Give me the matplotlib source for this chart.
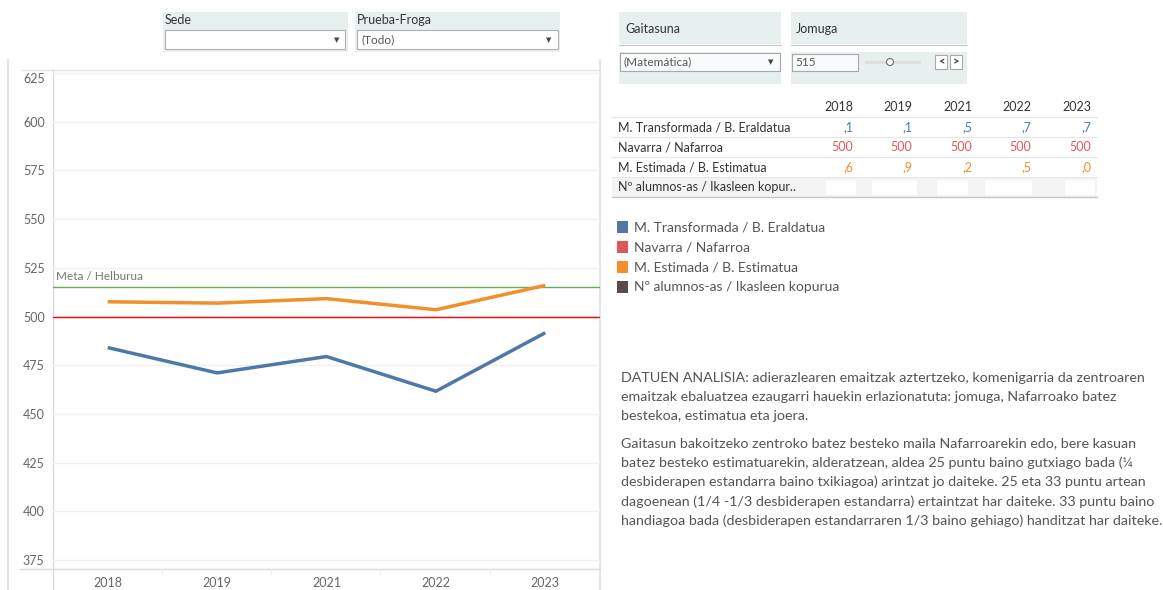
import numpy as np
import matplotlib.pyplot as plt
from matplotlib.patches import Rectangle, Circle

plt.rcParams['font.family'] = ['Lato', 'DejaVu Sans']

# datos
years = ['2018', '2019', '2021', '2022', '2023']
transformada = [484.1, 471.1, 479.5, 461.7, 491.7]
navarra = [500, 500, 500, 500, 500]
estimada = [507.6, 506.9, 509.2, 503.5, 516.0]
meta = 515
yticks = [375, 400, 425, 450, 475, 500, 525, 550, 575, 600, 625]

# tabla (valores parcialmente ocultos en la imagen)
row_names = ['M. Transformada / B. Eraldatua', 'Navarra / Nafarroa',
             'M. Estimada / B. Estimatua', 'Nº alumnos-as / Ikasleen kopur..']
tab_transf = [',1', ',1', ',5', ',7', ',7']
tab_nav = ['500', '500', '500', '500', '500']
tab_estim = [',6', ',9', ',2', ',5', ',0']

legend_names = ['M. Transformada / B. Eraldatua', 'Navarra / Nafarroa',
                'M. Estimada / B. Estimatua', 'Nº alumnos-as / Ikasleen kopurua']
c_blue, c_red, c_orange, c_brown = '#4e79a7', '#e15759', '#f28e2b', '#574c4a'
grey_txt = '#666666'
panel = '#e8f0ef'

W, H = 1163, 590
fig = plt.figure(figsize=(W / 100, H / 100), dpi=100)

# capa en pixeles para el dashboard
bg = fig.add_axes([0, 0, 1, 1], zorder=0)
bg.set_xlim(0, W)
bg.set_ylim(H, 0)
bg.axis('off')

def px(x0, y0, x1, y1, **kw):
    bg.add_patch(Rectangle((x0, y0), x1 - x0, y1 - y0, **kw))

# marco del grafico
bg.plot([8, 8], [60, 590], color='#e4e4e4', lw=1.5)
bg.plot([22, 600], [70, 70], color='#e4e4e4', lw=1)
bg.plot([53, 53], [70, 590], color='#d9d9d9', lw=1)
bg.plot([600, 600], [60, 590], color='#e0e0e0', lw=1.2)
bg.plot([20, 600], [569, 569], color='#d9d9d9', lw=1)
for xs in [162, 271, 380, 490]:
    bg.plot([xs, xs], [569, 574], color='#ececec', lw=1)

# filtros
fs = 9
px(163, 12, 348, 52, color=panel, lw=0)
bg.text(165, 20, 'Sede', fontsize=fs, color='#333333', va='center')
px(165, 30, 345, 49, facecolor='white', edgecolor='#b0b0b0', lw=0.8)
bg.text(337, 40, '▼', fontsize=5, color='#444444', ha='center', va='center', family='DejaVu Sans')

px(355, 12, 560, 52, color=panel, lw=0)
bg.text(357, 20, 'Prueba-Froga', fontsize=fs, color='#333333', va='center')
px(357, 30, 558, 49, facecolor='white', edgecolor='#b0b0b0', lw=0.8)
bg.text(362, 40, '(Todo)', fontsize=8.5, color='#555555', va='center')
bg.text(549, 40, '▼', fontsize=5, color='#444444', ha='center', va='center', family='DejaVu Sans')

px(619, 12, 781, 44, color=panel, lw=0)
bg.text(625, 29, 'Gaitasuna', fontsize=fs, color='#333333', va='center')
bg.plot([619, 781], [44.5, 44.5], color='#c8c8c8', lw=0.8)
px(619, 52, 781, 84, color=panel, lw=0)
px(620, 53, 780, 71, facecolor='#f7fbfb', edgecolor='#a8a8a8', lw=0.8)
bg.text(624, 62, '(Matemática)', fontsize=8.5, color='#555555', va='center')
bg.text(771, 62, '▼', fontsize=5, color='#444444', ha='center', va='center', family='DejaVu Sans')

px(791, 12, 967, 44, color=panel, lw=0)
bg.text(796, 29, 'Jomuga', fontsize=fs, color='#333333', va='center')
bg.plot([791, 967], [44.5, 44.5], color='#c8c8c8', lw=0.8)
px(791, 52, 967, 84, color=panel, lw=0)
px(792, 54, 858, 71, facecolor='#f7fbfb', edgecolor='#a8a8a8', lw=0.8)
bg.text(795, 62, str(meta), fontsize=8.5, color='#555555', va='center')
bg.plot([866, 919], [62, 62], color='#dddddd', lw=2)
bg.add_patch(Circle((890, 62), 3.5, facecolor='white', edgecolor='#777777', lw=0.9, zorder=3))
px(935, 55, 947, 69, facecolor='white', edgecolor='#a8a8a8', lw=0.8)
px(950, 55, 962, 69, facecolor='white', edgecolor='#a8a8a8', lw=0.8)
bg.text(941, 62, '<', fontsize=8, color='#333333', ha='center', va='center', weight='bold')
bg.text(956, 62, '>', fontsize=8, color='#333333', ha='center', va='center', weight='bold')

# tabla
col_x = [853, 912, 972, 1031, 1091]
for x, yr in zip(col_x, years):
    bg.text(x, 107, yr, fontsize=fs, color='#333333', ha='right', va='center')
px(612, 177, 1097, 197, color='#f3f3f3', lw=0)
for yl in [117, 137, 157, 177]:
    bg.plot([612, 1097], [yl, yl], color='#e6e6e6', lw=0.8)
bg.plot([612, 1097], [197, 197], color='#c8c8c8', lw=1)
row_vals = [tab_transf, tab_nav, tab_estim]
row_cols = [c_blue, c_red, c_orange]
for i, name in enumerate(row_names):
    yy = 127 + 20 * i
    bg.text(618, yy, name, fontsize=fs, color='#333333', va='center')
    if i < 3:
        for x, v in zip(col_x, row_vals[i]):
            bg.text(x, yy, v, fontsize=fs, color=row_cols[i], ha='right', va='center')
for x0, x1 in [(826, 856), (872, 917), (937, 968), (985, 1032), (1065, 1095)]:
    px(x0, 180, x1, 195, color='white', lw=0)

# leyenda
for i, (name, c) in enumerate(zip(legend_names, [c_blue, c_red, c_orange, c_brown])):
    yy = 227 + 20 * i
    px(617, yy - 6, 628, yy + 6, color=c, lw=0)
    bg.text(634, yy, name, fontsize=10, color='#555555', va='center')

# texto de analisis
p1 = ['DATUEN ANALISIA: adierazlearen emaitzak aztertzeko, komenigarria da zentroaren',
      'emaitzak ebaluatzea ezaugarri hauekin erlazionatuta: jomuga, Nafarroako batez',
      'bestekoa, estimatua eta joera.']
p2 = ['Gaitasun bakoitzeko zentroko batez besteko maila Nafarroarekin edo, bere kasuan',
      'batez besteko estimatuarekin, alderatzean, aldea 25 puntu baino gutxiago bada (¼',
      'desbiderapen estandarra baino txikiagoa) arintzat jo daiteke. 25 eta 33 puntu artean',
      'dagoenean (1/4 -1/3 desbiderapen estandarra) ertaintzat har daiteke. 33 puntu baino',
      'handiagoa bada (desbiderapen estandarraren 1/3 baino gehiago) handitzat har daiteke.']
for i, line in enumerate(p1):
    bg.text(621, 378 + 19 * i, line, fontsize=10.3, color='#555555', va='center')
for i, line in enumerate(p2):
    bg.text(621, 443 + 19.5 * i, line, fontsize=10.3, color='#555555', va='center')

# grafico de lineas
ax = fig.add_axes([53 / W, 1 - 569 / H, (600 - 53) / W, (569 - 70) / H], zorder=1)
ax.patch.set_alpha(0)
x = np.arange(len(years))
ax.set_xlim(-0.5, len(years) - 0.5)
ax.set_ylim(370.5, 626.5)
ax.set_yticks(yticks)
ax.set_xticks(x)
ax.set_xticklabels(years)
ax.grid(axis='y', color='#f0f0f0', lw=1)
ax.set_axisbelow(True)
for s in ax.spines.values():
    s.set_visible(False)
ax.tick_params(length=0, colors=grey_txt, labelsize=9)
ax.tick_params(axis='y', pad=6)
ax.tick_params(axis='x', pad=6)
ax.get_yticklabels()[-1].set_va('top')

ax.axhline(navarra[0], color='#ff0000', lw=1, zorder=2)
ax.axhline(meta, color='#6aaa5a', lw=1, zorder=2)
ax.text(0.005, meta + 2.5, 'Meta / Helburua', transform=ax.get_yaxis_transform(),
        fontsize=8.5, color='#777777', va='bottom', ha='left')
ax.plot(x, estimada, color=c_orange, lw=2.5, zorder=3, solid_capstyle='butt')
ax.plot(x, transformada, color=c_blue, lw=2.5, zorder=3, solid_capstyle='butt')

fig.savefig('out.png', dpi=100)
